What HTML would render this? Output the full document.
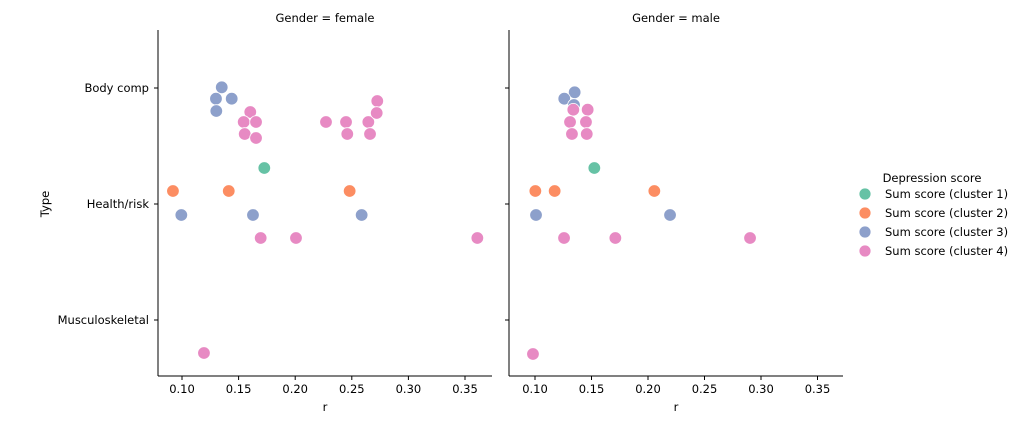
<!DOCTYPE html>
<html><head><meta charset="utf-8"><style>
body{margin:0;background:#fff}
svg{font-family:"DejaVu Sans","Liberation Sans",sans-serif}
</style></head><body>
<svg id="chart" width="1024" height="427" viewBox="0 0 1024 427">
</svg>
<script>
const categories=["Body comp","Health/risk","Musculoskeletal"];
const seriesNames=["Sum score (cluster 1)","Sum score (cluster 2)","Sum score (cluster 3)","Sum score (cluster 4)"];
const xTicks=[0.10,0.15,0.20,0.25,0.30,0.35];
const xTickLabels=["0.10","0.15","0.20","0.25","0.30","0.35"];
const femaleR=[0.1351,0.1300,0.1439,0.1303,0.1603,0.1545,0.1654,0.1554,0.1654,0.2272,0.2449,0.2460,0.2646,0.2661,0.2725,0.2720,0.1727,0.0920,0.1413,0.2481,0.0994,0.1627,0.2587,0.1695,0.2007,0.3609,0.1194];
const femaleCat=[0,0,0,0,0,0,0,0,0,0,0,0,0,0,0,0,1,1,1,1,1,1,1,1,1,1,2];
const femaleCluster=[2,2,2,2,3,3,3,3,3,3,3,3,3,3,3,3,0,1,1,1,2,2,2,3,3,3,3];
const femaleSwarm=[-0.7,10.7,10.7,23,24,34,34,46,50,34,34,46,34,46,13,25,-36,-13,-13,-13,11,11,11,34,34,34,33];
const maleR=[0.1351,0.1259,0.1345,0.1339,0.1466,0.1310,0.1451,0.1327,0.1458,0.1525,0.1003,0.1174,0.2056,0.1009,0.2195,0.1257,0.1711,0.2903,0.0982];
const maleCat=[0,0,0,0,0,0,0,0,0,1,1,1,1,1,1,1,1,1,2];
const maleCluster=[2,2,2,3,3,3,3,3,3,0,1,1,1,2,2,3,3,3,3];
const maleSwarm=[4.3,10.7,17,21.7,21.7,34,34,46,46,-36,-13,-13,-13,11,11,34,34,34,34];

const colors=["#66c2a5","#fc8d62","#8da0cb","#e78ac3"];
const NS="http://www.w3.org/2000/svg";
const svg=document.getElementById("chart");
const FS=11.5;
function el(tag,attrs,parent){const e=document.createElementNS(NS,tag);for(const k in attrs)e.setAttribute(k,attrs[k]);(parent||svg).appendChild(e);return e;}
const yPos=i=>88+i*116;
const topY=30,bottomY=376;
function panel(left,right,x0,scale,title,R,C,K,S,name,showY){
  const g=el("g",{});
  
  
  const xs=v=>x0+(v-0.1)*scale;
  const t=el("text",{x:(left+right)/2,y:22,"text-anchor":"middle","font-size":FS},g);t.textContent=title;
  
  const ya=el("line",{x1:left,y1:topY,x2:left,y2:bottomY,stroke:"#000","stroke-width":1},g);
  
  const xa=el("line",{x1:left,y1:bottomY,x2:right,y2:bottomY,stroke:"#000","stroke-width":1},g);
  
  categories.forEach((c,i)=>{
    el("line",{x1:left-4,y1:yPos(i),x2:left,y2:yPos(i),stroke:"#000"},g);
    if(showY){const tt=el("text",{x:left-9,y:yPos(i)+4,"text-anchor":"end","font-size":FS},g);tt.textContent=c;
      }
  });
  xTicks.forEach((v,i)=>{
    el("line",{x1:xs(v),y1:bottomY,x2:xs(v),y2:bottomY+4,stroke:"#000"},g);
    const tt=el("text",{x:xs(v),y:bottomY+17,"text-anchor":"middle","font-size":FS},g);tt.textContent=xTickLabels[i];
    
  });
  const xl=el("text",{x:(left+right)/2,y:411,"text-anchor":"middle","font-size":FS},g);xl.textContent="r";
  
  R.forEach((r,i)=>{
    const p=el("circle",{cx:xs(r),cy:yPos(C[i])+S[i],r:6.3,fill:colors[K[i]],stroke:"#fff","stroke-width":0.8},g);
    
    
  });
}
panel(158,492,182,1132,"Gender = female",femaleR,femaleCat,femaleCluster,femaleSwarm,"female",true);
panel(509,843,535,1130,"Gender = male",maleR,maleCat,maleCluster,maleSwarm,"male",false);
const yt=el("text",{x:49,y:204,"text-anchor":"middle","font-size":FS,transform:"rotate(-90 49 204)"});yt.textContent="Type";

const lg=el("g",{});


const lt=el("text",{x:932,y:182,"text-anchor":"middle","font-size":FS},lg);lt.textContent="Depression score";

seriesNames.forEach((s,i)=>{
  const y=194+i*19;
  const e=el("g",{},lg);
  
  
  el("circle",{cx:865,cy:y,r:6,fill:colors[i],stroke:"#fff","stroke-width":0.8},e);
  const tx=el("text",{x:885,y:y+4,"font-size":FS},e);tx.textContent=s;
});
</script>
</body></html>
